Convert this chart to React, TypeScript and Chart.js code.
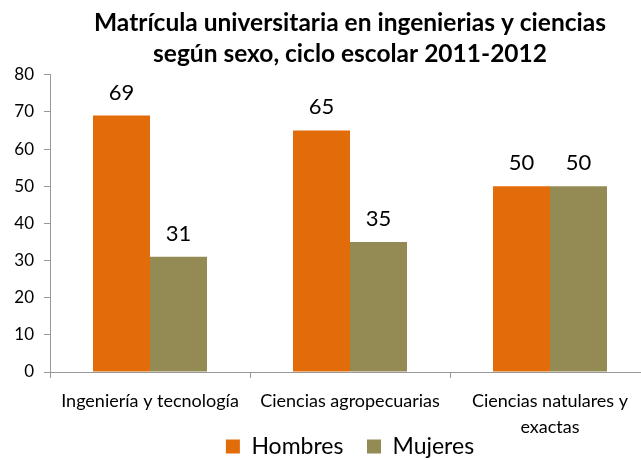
import React, { useEffect, useRef } from "react";
import { Chart, registerables } from "chart.js";

Chart.register(...registerables);

const categories: (string | string[])[] = [
  "Ingeniería y tecnología",
  "Ciencias agropecuarias",
  ["Ciencias natulares y", "exactas"],
];
const hombres = [69, 65, 50];
const mujeres = [31, 35, 50];
const titleLines = [
  "Matrícula universitaria en ingenierias y ciencias",
  "según sexo, ciclo escolar 2011-2012",
];

const FONT = "Lato";

const valueLabels = {
  id: "valueLabels",
  afterDatasetsDraw(chart: any) {
    const ctx = chart.ctx;
    ctx.save();
    ctx.font = `22px ${FONT}`;
    ctx.fillStyle = "#000";
    ctx.textAlign = "center";
    ctx.textBaseline = "alphabetic";
    chart.data.datasets.forEach((ds: any, i: number) => {
      const meta = chart.getDatasetMeta(i);
      meta.data.forEach((bar: any, j: number) => {
        ctx.fillText(String(ds.data[j]), bar.x, bar.y - 16);
      });
    });
    ctx.restore();
  },
};

export default function App() {
  const ref = useRef<HTMLCanvasElement>(null);
  useEffect(() => {
    const chart = new Chart(ref.current!, {
      type: "bar",
      data: {
        labels: categories,
        datasets: [
          { label: "Hombres", data: hombres, backgroundColor: "#E36C0A", categoryPercentage: 0.57, barPercentage: 1 },
          { label: "Mujeres", data: mujeres, backgroundColor: "#948A54", categoryPercentage: 0.57, barPercentage: 1 },
        ],
      },
      options: {
        responsive: false,
        animation: false,
        layout: { padding: 0 },
        plugins: {
          title: {
            display: true,
            text: titleLines,
            color: "#000",
            font: { family: FONT, size: 24.5, weight: "bold", lineHeight: 1.28 },
            padding: { top: 7, bottom: 5 },
          },
          legend: {
            position: "bottom",
            labels: {
              color: "#000",
              font: { family: FONT, size: 23 },
              boxWidth: 14,
              boxHeight: 14,
              padding: 0,
              generateLabels: (chart: any) => {
                const items = (Chart as any).defaults.plugins.legend.labels.generateLabels(chart);
                items.forEach((it: any, i: number) => {
                  if (i < items.length - 1) it.text = it.text + "    ";
                });
                return items;
              },
            },
          },
          tooltip: { enabled: false },
        },
        scales: {
          x: {
            grid: { drawOnChartArea: false, drawTicks: true, tickLength: 6, color: "#999", offset: true },
            border: { display: true, color: "#999" },
            ticks: {
              color: "#000",
              font: { family: FONT, size: 18, lineHeight: 1.44 },
              padding: 10,
              maxRotation: 0,
              autoSkip: false,
            },
            afterFit: (s: any) => { s.height = 63; },
          },
          y: {
            min: 0,
            max: 80,
            grid: { drawOnChartArea: false, drawTicks: true, tickLength: 6, color: "#999" },
            border: { display: true, color: "#999" },
            ticks: {
              stepSize: 10,
              color: "#000",
              font: { family: FONT, size: 17 },
              padding: 10,
            },
            afterFit: (s: any) => { s.width = 50; },
          },
          yRight: {
            type: "linear",
            position: "right",
            display: true,
            grid: { display: false },
            border: { display: false },
            ticks: { display: false },
            afterFit: (s: any) => { s.width = 50; },
          },
        },
      },
      plugins: [valueLabels],
    } as any);
    return () => chart.destroy();
  }, []);
  return (
    <div style={{ position: "fixed", left: 0, top: 0, width: 641, height: 460, overflow: "hidden", background: "#fff" }}>
      <canvas ref={ref} width={700} height={468} style={{ display: "block" }} />
    </div>
  );
}
